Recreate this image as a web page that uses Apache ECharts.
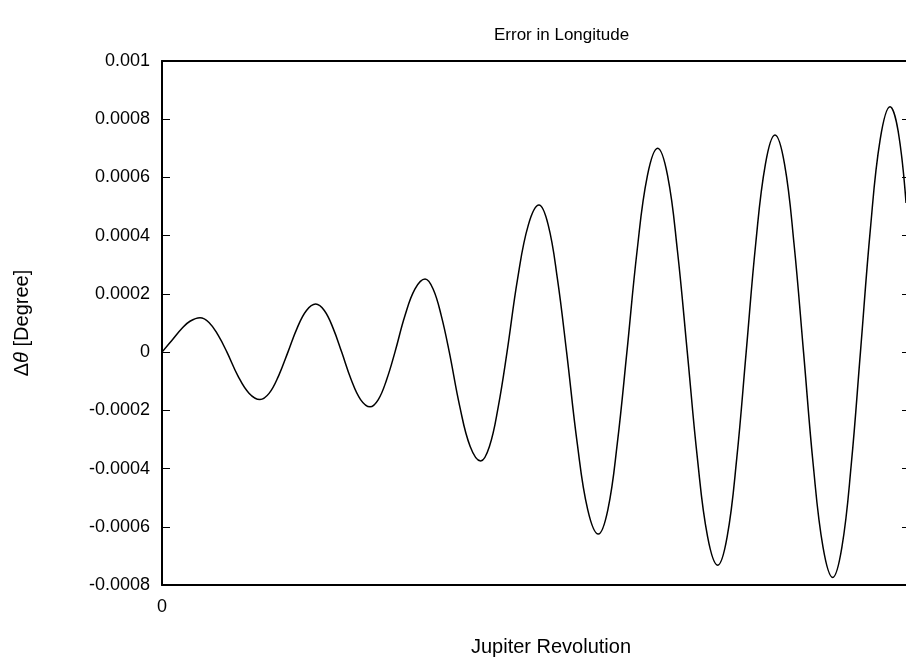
<!DOCTYPE html>
<html>
<head>
<meta charset="utf-8">
<script src="https://cdn.jsdelivr.net/npm/echarts@6/dist/echarts.min.js"></script>
<style>html,body{margin:0;padding:0;background:#fff;overflow:hidden;}#c{width:906px;height:661px;}</style>
</head>
<body>
<div id="c"></div>
<script>
// x in Jupiter revolutions (approx), y in degrees
var xValues = [0, 0.086, 0.172, 0.240, 0.326, 0.403, 0.480, 0.557, 0.651, 0.746, 0.840, 0.920, 1.000, 1.080, 1.159, 1.239, 1.318, 1.392, 1.467, 1.541, 1.622, 1.703, 1.784, 1.855, 1.927, 1.998, 2.084, 2.170, 2.256, 2.325, 2.395, 2.464, 2.554, 2.643, 2.733, 2.808, 2.884, 2.959, 3.050, 3.142, 3.233, 3.312, 3.391, 3.470, 3.561, 3.651, 3.742, 3.824, 3.905, 3.987, 4.075, 4.163, 4.251, 4.336, 4.420, 4.505, 4.592, 4.679, 4.766, 4.847, 4.929, 5.010, 5.092, 5.175, 5.257, 5.339, 5.420, 5.502, 5.585, 5.669, 5.752, 5.831, 5.911, 5.990, 6.075, 6.159, 6.244, 6.313, 6.381];
var yValues = [0, 0.000041, 0.000082, 0.000106, 0.000118, 0.000102, 0.000059, 0, -0.0000815, -0.000141, -0.000163, -0.000141, -0.0000815, 0, 0.0000825, 0.000143, 0.000165, 0.000143, 0.0000825, 0, -0.000094, -0.000163, -0.000188, -0.000163, -0.000094, 0, 0.0001255, 0.000217, 0.000251, 0.000217, 0.0001255, 0, -0.000187, -0.000324, -0.000374, -0.000324, -0.000187, 0, 0.0002525, 0.000437, 0.000505, 0.000437, 0.0002525, 0, -0.0003125, -0.000541, -0.000625, -0.000541, -0.0003125, 0, 0.00035, 0.000606, 0.000700, 0.000606, 0.00035, 0, -0.000366, -0.000634, -0.000732, -0.000634, -0.000366, 0, 0.000373, 0.000646, 0.000746, 0.000646, 0.000373, 0, -0.000387, -0.00067, -0.000774, -0.00067, -0.000387, 0, 0.0004215, 0.00073, 0.000843, 0.00076, 0.000512];
var yTicks = [0.001, 0.0008, 0.0006, 0.0004, 0.0002, 0, -0.0002, -0.0004, -0.0006, -0.0008];
var xTickLabels = ["0"];
var titleText = "Error in Longitude";
var xName = "Jupiter Revolution";

var data = xValues.map(function (x, i) { return [x, yValues[i]]; });
var fontFam = "'Liberation Sans', Arial, Helvetica, sans-serif";
var chart = echarts.init(document.getElementById('c'));
chart.setOption({
  animation: false,
  backgroundColor: '#fff',
  title: {
    text: titleText, left: 489, top: 22,
    textStyle: { fontFamily: fontFam, fontSize: 17, fontWeight: 'normal', color: '#000' }
  },
  grid: { left: 162, top: 61, width: 748, height: 524, containLabel: false, outerBoundsMode: 'none' },
  xAxis: [{
    type: 'value', min: 0, max: 6.415, position: 'bottom',
    name: xName, nameLocation: 'middle', nameGap: 52,
    nameTextStyle: { fontFamily: fontFam, fontSize: 20, color: '#000', padding: [0, 0, 0, 30] },
    axisLine: { show: true, onZero: false, lineStyle: { color: '#000', width: 2 } },
    axisTick: { show: false },
    splitLine: { show: false },
    axisLabel: {
      fontFamily: fontFam, fontSize: 18, color: '#000', margin: 13,
      showMaxLabel: false,
      formatter: function (v) { return v === 0 ? xTickLabels[0] : ''; }
    }
  }, {
    type: 'value', min: 0, max: 6.415, position: 'top',
    axisLine: { show: true, onZero: false, lineStyle: { color: '#000', width: 2 } },
    axisTick: { show: false }, axisLabel: { show: false }, splitLine: { show: false }
  }],
  yAxis: [{
    type: 'value', min: -0.0008, max: 0.001, interval: 0.0002, position: 'left',
    name: '{d|Δ}{t|θ}{d| [Degree]}', nameLocation: 'middle', nameRotate: 90, nameGap: 130,
    nameTextStyle: {
      padding: [0, 0, 0, 0],
      rich: {
        d: { fontFamily: fontFam, fontSize: 20, color: '#000' },
        t: { fontFamily: fontFam, fontSize: 20, color: '#000', fontStyle: 'italic' }
      }
    },
    axisLine: { show: true, onZero: false, lineStyle: { color: '#000', width: 2 } },
    axisTick: { show: true, inside: true, length: 8, lineStyle: { color: '#000', width: 1 } },
    splitLine: { show: false },
    axisLabel: {
      fontFamily: fontFam, fontSize: 18, color: '#000', margin: 12,
      formatter: function (v) {
        for (var i = 0; i < yTicks.length; i++) {
          if (Math.abs(v - yTicks[i]) < 1e-9) return String(yTicks[i]);
        }
        return '';
      }
    }
  }, {
    type: 'value', min: -0.0008, max: 0.001, interval: 0.0002, position: 'right',
    axisLine: { show: true, onZero: false, lineStyle: { color: '#000', width: 2 } },
    axisTick: { show: true, inside: true, length: 8, lineStyle: { color: '#000', width: 1 } },
    axisLabel: { show: false }, splitLine: { show: false }
  }],
  series: [{
    type: 'line', data: data, smooth: 0.4, showSymbol: false,
    lineStyle: { color: '#000', width: 1.5 },
    xAxisIndex: 0, yAxisIndex: 0, clip: true
  }]
});
</script>
</body>
</html>
